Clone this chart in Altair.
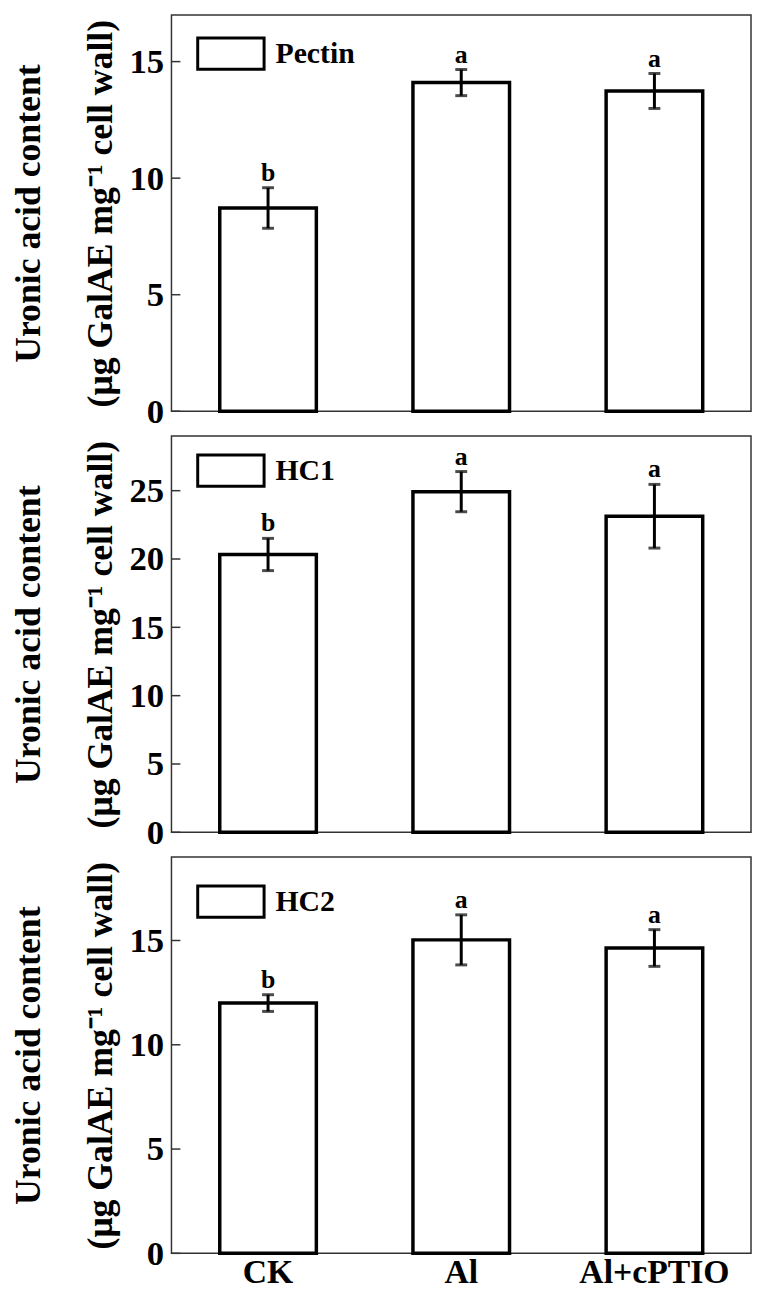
import altair as alt
import pandas as pd

groups = ["CK", "Al", "Al+cPTIO"]
letters = ["b", "a", "a"]

pectin_mean = [8.72, 14.10, 13.74]
pectin_se = [0.87, 0.56, 0.75]
hc1_mean = [20.33, 24.93, 23.13]
hc1_se = [1.18, 1.47, 2.33]
hc2_mean = [12.00, 15.03, 14.64]
hc2_se = [0.40, 1.20, 0.88]

panel_names = ["Pectin", "HC1", "HC2"]
y_max = [17, 29, 19]
y_ticks = [[0, 5, 10, 15], [0, 5, 10, 15, 20, 25], [0, 5, 10, 15]]
legend_y = [4, 0, 10]

FONT = "Liberation Serif"
Y_TITLE = ["Uronic acid content", "(μg GalAE mg⁻¹ cell wall)"]
BOX_PATH = "M-1,-0.47H1V0.47H-1Z"


def panel(name, means, ses, ymax, ticks, show_x, ly):
    df = pd.DataFrame({
        "group": groups,
        "mean": means,
        "lo": [m - s for m, s in zip(means, ses)],
        "hi": [m + s for m, s in zip(means, ses)],
        "letter": letters,
        "fraction": [name] * len(groups),
    })
    if show_x:
        xaxis = alt.Axis(title=None, labels=True, ticks=False, domain=False,
                         labelFont=FONT, labelFontSize=34, labelFontWeight="bold",
                         labelColor="black", labelPadding=2, labelAngle=0)
    else:
        xaxis = alt.Axis(title=None, labels=False, ticks=False, domain=False)
    x = alt.X("group:N", sort=groups,
              scale=alt.Scale(paddingInner=0.5, paddingOuter=0.25), axis=xaxis)
    yscale = alt.Scale(domain=[0, ymax], nice=False, zero=True)
    yaxis = alt.Axis(title=Y_TITLE, values=ticks, ticks=False, domain=False,
                     grid=False, labelFont=FONT, labelFontSize=35,
                     labelFontWeight="bold", labelColor="black", labelPadding=8,
                     titleFont=FONT, titleFontSize=36, titleFontWeight="bold",
                     titleColor="black", titleLineHeight=72, titlePadding=10)
    base = alt.Chart(df)

    bars = base.mark_bar(stroke="black", strokeWidth=3.5).encode(
        x=x,
        y=alt.Y("mean:Q", scale=yscale, axis=yaxis),
        fill=alt.Fill("fraction:N", scale=alt.Scale(range=["white"]),
                      legend=alt.Legend(title=None, orient="none", legendX=25, legendY=ly,
                                        symbolType=BOX_PATH, symbolSize=4489,
                                        symbolStrokeColor="black", symbolStrokeWidth=3,
                                        symbolFillColor="white", labelFont=FONT,
                                        labelFontSize=30, labelFontWeight="bold",
                                        labelColor="black", labelOffset=10, padding=0)),
    )
    rule = base.mark_rule(color="black", strokeWidth=3).encode(
        x=x, y=alt.Y("lo:Q", scale=yscale, axis=yaxis), y2="hi:Q")
    cap_hi = base.mark_tick(color="black", size=12, thickness=3).encode(
        x=x, y=alt.Y("hi:Q", scale=yscale, axis=yaxis))
    cap_lo = base.mark_tick(color="black", size=12, thickness=3).encode(
        x=x, y=alt.Y("lo:Q", scale=yscale, axis=yaxis))
    text = base.mark_text(font=FONT, fontWeight="bold", fontSize=26,
                          baseline="alphabetic", dy=-7, color="black").encode(
        x=x, y=alt.Y("hi:Q", scale=yscale, axis=yaxis), text="letter:N")
    tick_df = pd.DataFrame({"v": ticks})
    tick_layer = alt.Chart(tick_df).mark_rule(color="#333", strokeWidth=1.5).encode(
        x=alt.value(0), x2=alt.value(9), y=alt.Y("v:Q", scale=yscale, axis=yaxis))
    return alt.layer(bars, rule, cap_hi, cap_lo, text, tick_layer).properties(
        width=585, height=400)


p1 = panel(panel_names[0], pectin_mean, pectin_se, y_max[0], y_ticks[0], False, legend_y[0])
p2 = panel(panel_names[1], hc1_mean, hc1_se, y_max[1], y_ticks[1], False, legend_y[1])
p3 = panel(panel_names[2], hc2_mean, hc2_se, y_max[2], y_ticks[2], True, legend_y[2])

chart = alt.vconcat(p1, p2, p3, spacing=5).resolve_scale(
    fill="independent", y="independent"
).resolve_legend(fill="independent").properties(
    padding={"left": 2, "top": 0, "right": 0, "bottom": 0},
    background="white",
).configure_view(stroke="#333", strokeWidth=1.5)

chart.save("out.html", embed_options={"renderer": "svg", "actions": False})
